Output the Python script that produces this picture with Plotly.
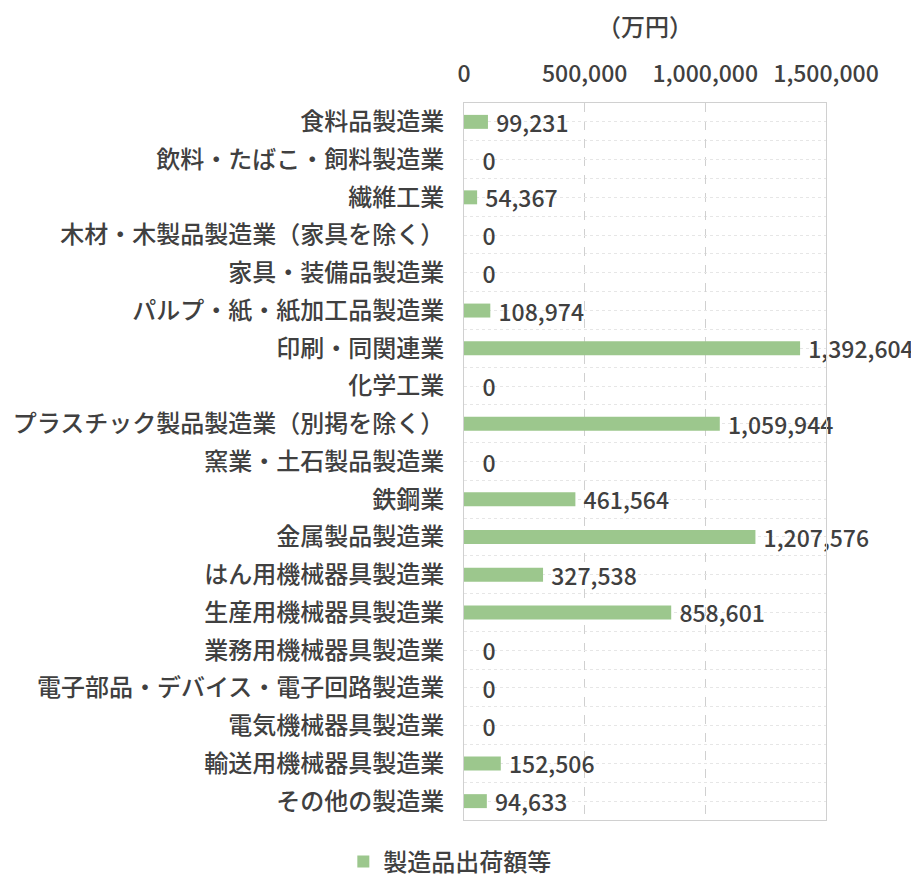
import plotly.graph_objects as go

# 製造業の中分類と出荷額（万円）
categories = [
    "食料品製造業",
    "飲料・たばこ・飼料製造業",
    "繊維工業",
    "木材・木製品製造業（家具を除く）",
    "家具・装備品製造業",
    "パルプ・紙・紙加工品製造業",
    "印刷・同関連業",
    "化学工業",
    "プラスチック製品製造業（別掲を除く）",
    "窯業・土石製品製造業",
    "鉄鋼業",
    "金属製品製造業",
    "はん用機械器具製造業",
    "生産用機械器具製造業",
    "業務用機械器具製造業",
    "電子部品・デバイス・電子回路製造業",
    "電気機械器具製造業",
    "輸送用機械器具製造業",
    "その他の製造業",
]
shipments = [99231, 0, 54367, 0, 0, 108974, 1392604, 0, 1059944, 0,
             461564, 1207576, 327538, 858601, 0, 0, 0, 152506, 94633]
x_ticks = [0, 500000, 1000000, 1500000]
x_ticktext = ["0", "500,000", "1,000,000", "1,500,000"]
unit_label = "（万円）"

FONT = "Noto Sans CJK JP, Noto Sans, sans-serif"
TXT = "#404040"
GRID = "#d0d0d0"

pos = list(range(len(categories)))
# Excel leaves a little more room before the zero labels
labels = [("   " if v == 0 else " ") + f"{v:,}" for v in shipments]

fig = go.Figure()
fig.add_trace(go.Bar(
    x=shipments, y=pos, orientation="h",
    width=0.37,
    marker=dict(color="#9cc78d", line=dict(width=0)),
    text=labels,
    textposition="outside", cliponaxis=False, constraintext="none",
    textfont=dict(size=23, color=TXT, family=FONT, weight=500),
    name="製造品出荷額等", showlegend=True,
))

# unit label above the tick labels
fig.add_annotation(text=unit_label, xref="paper", yref="paper", x=0.5, y=1,
                   yanchor="middle", yshift=78, showarrow=False,
                   font=dict(size=24, color=TXT, family=FONT, weight=500))

# page body has an 8px margin, so the figure is drawn 8px smaller
fig.update_layout(
    width=911, height=873,
    margin=dict(l=456, r=93, t=95, b=61),
    plot_bgcolor="white", paper_bgcolor="white",
    font=dict(family=FONT, color=TXT, size=22),
    legend=dict(orientation="h", xref="container", yref="container",
                x=0.485, xanchor="center", y=0.022, yanchor="middle",
                font=dict(size=24, color=TXT, family=FONT, weight=500),
                itemwidth=30),
    xaxis=dict(
        side="top", range=[0, 1500000], automargin=False,
        tickvals=x_ticks, ticktext=x_ticktext,
        tickfont=dict(size=23, color=TXT, weight=500),
        ticklabelstandoff=11,
        showgrid=True, gridcolor=GRID, griddash="dash", gridwidth=1,
        zeroline=False, showline=True, linecolor=GRID, mirror=True,
    ),
    yaxis=dict(
        range=[len(categories) - 0.5, -0.5], automargin=False,
        tickvals=pos, ticktext=categories,
        tickfont=dict(size=24, color=TXT, weight=500),
        ticklabelstandoff=14,
        showgrid=True, gridcolor="#e6e6e6", griddash="dot", gridwidth=1,
        minor=dict(tick0=0.5, dtick=1, showgrid=True, gridcolor="#e6e6e6",
                   griddash="dot", gridwidth=1),
        zeroline=False, showline=True, linecolor=GRID, mirror=True,
    ),
)

fig.write_html("out.html")
